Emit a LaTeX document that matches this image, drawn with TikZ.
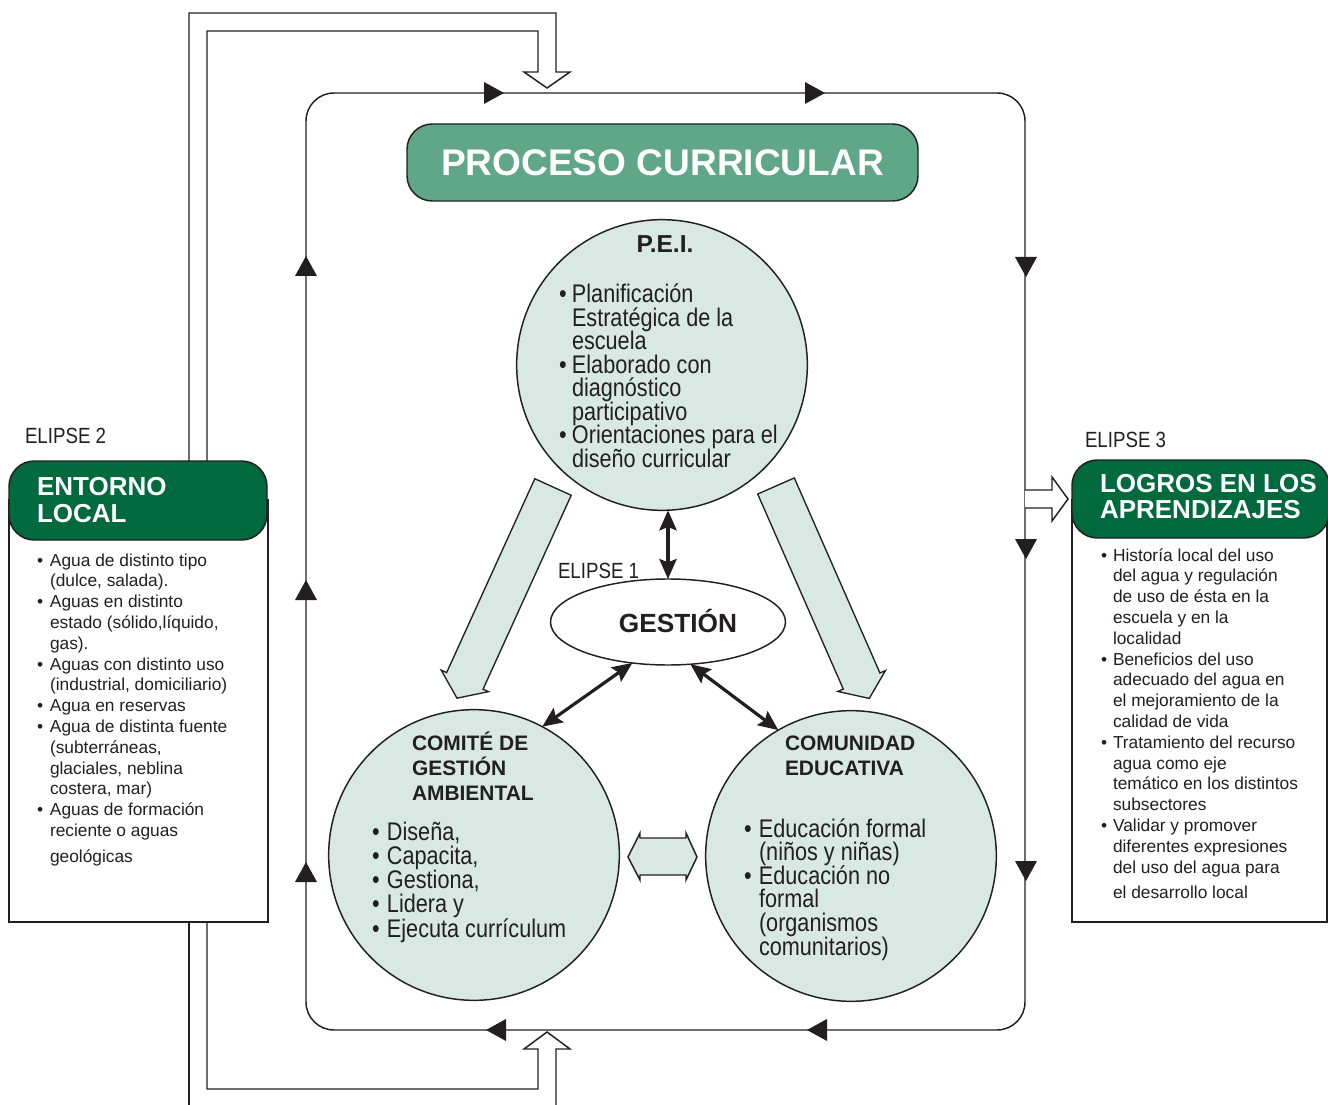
\documentclass[tikz,border=0pt]{standalone}
\usepackage{fontspec}
\setmainfont{Liberation Sans}
\newfontfamily\narrowf[FakeStretch=0.85]{Liberation Sans}
\usetikzlibrary{shapes.geometric,arrows.meta}
\definecolor{linecol}{RGB}{35,31,32}
\definecolor{hdrgreen}{RGB}{0,105,62}
\definecolor{titlegreen}{RGB}{96,166,136}
\definecolor{lightfill}{RGB}{216,232,226}
\newlength\bw
\newcommand\ml[2]{\vtop{\baselineskip=#1\lineskiplimit=-100pt\lineskip=0pt\let\\\cr\halign{##\hfil\cr#2\crcr}}}
\newcommand\bul{\makebox[\bw][l]{•}}
\newcommand\ind{\hspace*{\bw}}
\begin{document}
\begin{tikzpicture}[x=0.75pt,y=-0.75pt,line join=miter,
  ln/.style={draw=linecol, line width=1.1pt},
  circ/.style={circle, draw=linecol, line width=1.1pt, fill=lightfill, minimum size=218pt, inner sep=0, outer sep=0},
  hdr/.style={draw=linecol, line width=1.1pt, fill=hdrgreen, rounded corners=19pt, inner sep=0, outer sep=0},
  listbox/.style={rectangle, draw=linecol, line width=1.1pt, fill=white, inner sep=0, outer sep=0},
  txt/.style={inner sep=0, outer sep=0, anchor=base west, text=linecol},
  dbl/.style={line width=2.4pt, draw=linecol, {Stealth[length=15pt,width=13pt,inset=2.5pt]}-{Stealth[length=15pt,width=13pt,inset=2.5pt]}},
  tri/.pic={\fill[linecol] (-10,-11) -- (10,0) -- (-10,11) -- cycle;},
  bigarrow/.pic={\draw[line width=1pt, draw=linecol, fill=lightfill] (0,-20) -- (213,-20) -- (213,-26) -- (232,0) -- (213,26) -- (213,20) -- (0,20) -- cycle;},
]
\useasboundingbox (0,0) rectangle (1328,1105);

% feedback loop (outer)
\draw[ln] (189,470) -- (189,13) -- (556,13) -- (556,72) -- (570,72) -- (547,88) -- (524,72) -- (538,72) -- (538,31) -- (207,31) -- (207,470);
\draw[ln] (189,910) -- (189,1110);
\draw[ln] (207,910) -- (207,1089) -- (538,1089) -- (538,1049) -- (524,1049) -- (547,1032) -- (570,1049) -- (556,1049) -- (556,1110);

% main loop
\draw[ln, rounded corners=21pt] (306,93) rectangle (1025,1030);
\pic at (494,93) {tri};
\pic at (815,93) {tri};
\pic[rotate=-90] at (1026,267) {tri};
\pic[rotate=-90] at (1026,549) {tri};
\pic[rotate=-90] at (1026,871) {tri};
\pic[rotate=180] at (496,1030) {tri};
\pic[rotate=180] at (817,1030) {tri};
\pic[rotate=90] at (306,266) {tri};
\pic[rotate=90] at (306,590) {tri};
\pic[rotate=90] at (306,872) {tri};

% hollow arrow to the right box
\draw[ln, fill=white] (1025,490) -- (1052,490) -- (1052,477) -- (1068,499) -- (1052,521) -- (1052,508) -- (1025,508);

% side boxes
\node[listbox, minimum width=194.25pt, minimum height=316.5pt] (boxL) at (138.5,711) {};
\node[hdr, minimum width=193.5pt, minimum height=59.25pt] (hdrL) at (138,500.5) {};
\node[listbox, minimum width=191.25pt, minimum height=316.5pt] (boxR) at (1199.5,711) {};
\node[hdr, minimum width=192.75pt, minimum height=58.5pt] (hdrR) at (1200.5,499) {};

% title
\node[draw=linecol, line width=1.1pt, fill=titlegreen, rounded corners=19pt, minimum width=383.25pt, minimum height=57.75pt, inner sep=0, text=white, font=\fontsize{27.8}{30}\selectfont\bfseries] (title) at (662.5,162.5) {PROCESO CURRICULAR};

% circles and ellipse
\node[circ] (pei) at (662,365) {};
\node[circ] (comite) at (474,855) {};
\node[circ] (comunidad) at (851,856) {};
\node[ellipse, draw=linecol, line width=1.1pt, fill=white, minimum width=176.25pt, minimum height=64.5pt, inner sep=0, outer sep=0] (gest) at (668,622) {};

% block arrows
\pic[rotate=-114.45] at (553,487) {bigarrow};
\pic[rotate=-66.3] at (776,486) {bigarrow};
\draw[line width=1.1pt, draw=linecol, fill=lightfill] (628,857) -- (640,833) -- (640,838) -- (686,838) -- (686,833) -- (697,857) -- (686,880) -- (686,875) -- (640,875) -- (640,880) -- cycle;

% double arrows
\draw[dbl] (gest.north |- pei.south) -- (gest.north);
\draw[dbl] (comite.62.7) -- (gest.-131.5);
\draw[dbl] (comunidad.120) -- (gest.-62);

% labels
\node[txt, font=\narrowf\fontsize{16.5}{18}\selectfont] (e2) at (25,444) {ELIPSE 2};
\node[txt, font=\narrowf\fontsize{16.5}{18}\selectfont] (e3) at (1085,448) {ELIPSE 3};
\node[txt, font=\narrowf\fontsize{16.5}{18}\selectfont] (e1) at (558,578) {ELIPSE 1};

\node[txt, text=white, font=\fontsize{19.5}{20}\selectfont\bfseries] (hdrLtext) at (37,495) {\ml{20.25pt}{ENTORNO\\LOCAL}};
\node[txt, text=white, font=\fontsize{19.5}{20}\selectfont\bfseries] (hdrRtext) at (1100,493) {\ml{18.75pt}{LOGROS EN LOS\\APRENDIZAJES}};

\node[txt, font=\fontsize{13}{15.6}\selectfont\setlength\bw{9.75pt}] (listL) at (37,566) {\ml{15.6pt}{\bul Agua de distinto tipo\\ \ind(dulce, salada).\\ \bul Aguas en distinto\\ \ind estado (sólido,líquido,\\ \ind gas).\\ \bul Aguas con distinto uso\\ \ind(industrial, domiciliario)\\ \bul Agua en reservas\\ \bul Agua de distinta fuente\\ \ind(subterráneas,\\ \ind glaciales, neblina\\ \ind costera, mar)\\ \bul Aguas de formación\\ \ind reciente o aguas\\ \noalign{\vskip3.75pt} \ind geológicas}};

\node[txt, font=\fontsize{13}{15.6}\selectfont\setlength\bw{9pt}] (listR) at (1101,561) {\ml{15.6pt}{\bul Historía local del uso\\ \ind del agua y regulación\\ \ind de uso de ésta en la\\ \ind escuela y en la\\ \ind localidad\\ \bul Beneficios del uso\\ \ind adecuado del agua en\\ \ind el mejoramiento de la\\ \ind calidad de vida\\ \bul Tratamiento del recurso\\ \ind agua como eje\\ \ind temático en los distintos\\ \ind subsectores\\ \bul Validar y promover\\ \ind diferentes expresiones\\ \ind del uso del agua para\\ \noalign{\vskip3.75pt} \ind el desarrollo local}};

\node[anchor=base, inner sep=0, text=linecol, font=\fontsize{18.4}{20}\selectfont\bfseries] (peititle) at (665,253) {P.E.I.};
\node[txt, font=\narrowf\fontsize{19.1}{17.6}\selectfont\setlength\bw{9.75pt}] (peilist) at (559,303) {\ml{17.6pt}{\bul Planificación\\ \ind Estratégica de la\\ \ind escuela\\ \bul Elaborado con\\ \ind diagnóstico\\ \ind participativo\\ \bul Orientaciones para el\\ \ind diseño curricular}};

\node[txt, font=\fontsize{15.7}{18}\selectfont\bfseries] (comitetitle) at (412,750) {\ml{18.75pt}{COMITÉ DE\\GESTIÓN\\AMBIENTAL}};
\node[txt, font=\narrowf\fontsize{19.1}{18.2}\selectfont\setlength\bw{11.25pt}] (comitelist) at (372,840) {\ml{18.2pt}{\bul Diseña,\\ \bul Capacita,\\ \bul Gestiona,\\ \bul Lidera y\\ \bul Ejecuta currículum}};

\node[txt, font=\fontsize{15.7}{18}\selectfont\bfseries] (comunidadtitle) at (785,750) {\ml{18.75pt}{COMUNIDAD\\EDUCATIVA}};
\node[txt, font=\narrowf\fontsize{19.1}{17.7}\selectfont\setlength\bw{11.25pt}] (comunidadlist) at (744,837) {\ml{17.7pt}{\bul Educación formal\\ \ind(niños y niñas)\\ \bul Educación no\\ \ind formal\\ \ind(organismos\\ \ind comunitarios)}};

\node[anchor=base, inner sep=0, text=linecol, font=\fontsize{19.7}{22}\selectfont\bfseries] (gestlabel) at (678,632) {GESTIÓN};
\end{tikzpicture}
\end{document}
